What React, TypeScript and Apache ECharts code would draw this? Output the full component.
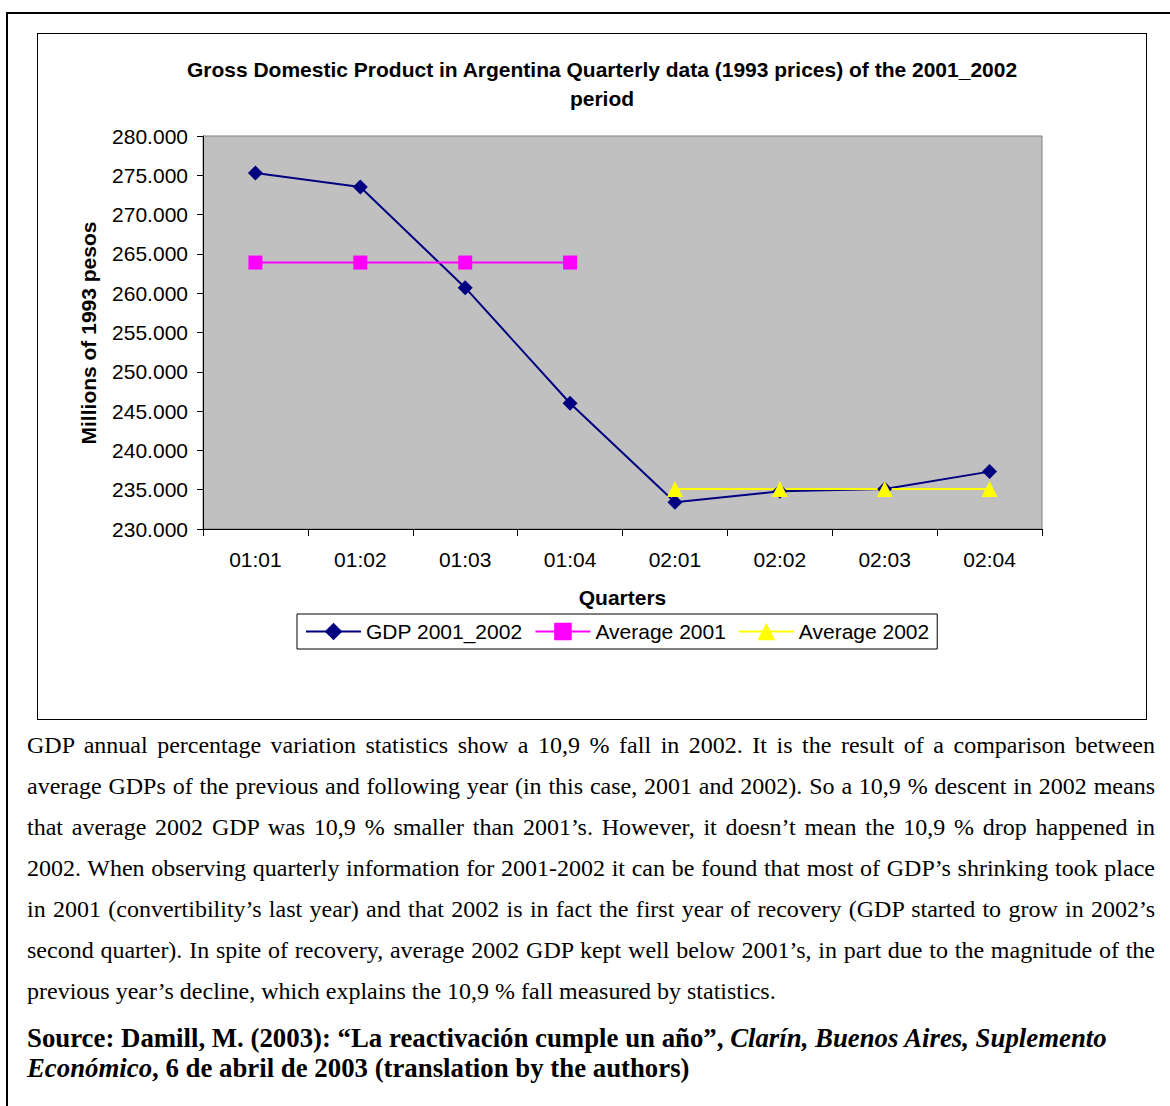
import React, { useEffect, useRef } from "react";
import * as echarts from "echarts";

const quarters = ["01:01", "01:02", "01:03", "01:04", "02:01", "02:02", "02:03", "02:04"];
const gdp = [275300, 273500, 260700, 246000, 233400, 234800, 235100, 237300];
const avg2001 = [263900, 263900, 263900, 263900, null, null, null, null];
const avg2002 = [null, null, null, null, 235100, 235100, 235100, 235100];
const yMin = 230000;
const yMax = 280000;
const yStep = 5000;

const titleText =
  "Gross Domestic Product in Argentina Quarterly data (1993 prices) of the 2001_2002\nperiod";
const yName = "Millions of 1993 pesos";
const xName = "Quarters";

const paragraphLines = [
  "GDP annual percentage variation statistics show a 10,9 % fall in 2002. It is the result of a comparison between",
  "average GDPs of the previous and following year (in this case, 2001 and 2002). So a 10,9 % descent in 2002 means",
  "that average 2002 GDP was 10,9 % smaller than 2001\u2019s. However, it doesn\u2019t mean the 10,9 % drop happened in",
  "2002. When observing quarterly information for 2001-2002 it can be found that most of GDP\u2019s shrinking took place",
  "in 2001 (convertibility\u2019s last year) and that 2002 is in fact the first year of recovery (GDP started to grow in 2002\u2019s",
  "second quarter). In spite of recovery, average 2002 GDP kept well below 2001\u2019s, in part due to the magnitude of the",
  "previous year\u2019s decline, which explains the 10,9 % fall measured by statistics.",
];

const SANS = "'Liberation Sans', Arial, sans-serif";
const SERIF = "'Liberation Serif', 'Times New Roman', serif";

function fmt(v: number) {
  const th = Math.floor(v / 1000);
  const rest = String(v % 1000).padStart(3, "0");
  return th + "." + rest;
}

function Chart() {
  const ref = useRef<HTMLDivElement>(null);
  useEffect(() => {
    if (!ref.current) return;
    const chart = echarts.init(ref.current, undefined, { renderer: "svg" });
    chart.setOption({
      animation: false,
      backgroundColor: "#fff",
      textStyle: { fontFamily: SANS },
      grid: {
        left: 165,
        top: 102,
        width: 839,
        height: 393,
        show: true,
        backgroundColor: "#C0C0C0",
        borderColor: "#808080",
        borderWidth: 1,
      },
      graphic: [
        {
          type: "text",
          x: 564,
          y: 20.5,
          style: {
            text: titleText,
            fontFamily: SANS,
            fontWeight: "bold",
            fontSize: 21,
            lineHeight: 29,
            fill: "#000",
            textAlign: "center",
            textVerticalAlign: "top",
          },
        },
        {
          type: "text",
          x: 50,
          y: 299,
          rotation: Math.PI / 2,
          style: {
            text: yName,
            fontFamily: SANS,
            fontWeight: "bold",
            fontSize: 21,
            fill: "#000",
            textAlign: "center",
            textVerticalAlign: "middle",
          },
        },
        {
          type: "text",
          x: 584.5,
          y: 563,
          style: {
            text: xName,
            fontFamily: SANS,
            fontWeight: "bold",
            fontSize: 21,
            fill: "#000",
            textAlign: "center",
            textVerticalAlign: "middle",
          },
        },
      ],
      legend: {
        left: 259,
        top: 580,
        itemWidth: 55,
        itemHeight: 22,
        itemGap: 12,
        padding: [6, 8, 6, 8],
        borderColor: "#000",
        borderWidth: 1,
        backgroundColor: "#fff",
        textStyle: { fontSize: 21, color: "#000", fontFamily: SANS, lineHeight: 23 },
        data: ["GDP 2001_2002", "Average 2001", "Average 2002"],
      },
      xAxis: {
        type: "category",
        data: quarters,
        boundaryGap: true,
        axisLine: { show: true, lineStyle: { color: "#000", width: 1 } },
        axisTick: { show: true, length: 7, lineStyle: { color: "#000" } },
        axisLabel: { fontSize: 21, color: "#000", margin: 20, fontFamily: SANS },
        splitLine: { show: false },
      },
      yAxis: {
        type: "value",
        min: yMin,
        max: yMax,
        interval: yStep,
        axisLine: { show: true, lineStyle: { color: "#000", width: 1 } },
        axisTick: { show: true, length: 6, lineStyle: { color: "#000" } },
        axisLabel: {
          fontSize: 21,
          color: "#000",
          margin: 15,
          fontFamily: SANS,
          formatter: (v: number) => fmt(v),
        },
        splitLine: { show: false },
      },
      series: [
        {
          type: "line",
          name: "GDP 2001_2002",
          data: gdp,
          symbol: "diamond",
          symbolSize: 15,
          color: "#000080",
          lineStyle: { color: "#000080", width: 2 },
          itemStyle: { color: "#000080" },
        },
        {
          type: "line",
          name: "Average 2001",
          data: avg2001,
          symbol: "rect",
          symbolSize: 14,
          color: "#FF00FF",
          lineStyle: { color: "#FF00FF", width: 2 },
          itemStyle: { color: "#FF00FF" },
        },
        {
          type: "line",
          name: "Average 2002",
          data: avg2002,
          symbol: "triangle",
          symbolSize: 16,
          color: "#FFFF00",
          lineStyle: { color: "#FFFF00", width: 2 },
          itemStyle: { color: "#FFFF00" },
        },
      ],
    });
    return () => chart.dispose();
  }, []);
  return <div ref={ref} style={{ width: 1108, height: 685 }} />;
}

export default function App() {
  return (
    <div
      style={{
        position: "absolute",
        left: 0,
        top: 0,
        width: 1170,
        height: 1106,
        overflow: "hidden",
        background: "#fff",
      }}
    >
      <div
        style={{
          position: "absolute",
          left: 6,
          top: 12,
          width: 1200,
          height: 1200,
          borderLeft: "2px solid #000",
          borderTop: "2px solid #000",
          boxSizing: "border-box",
        }}
      />
      <div
        style={{
          position: "absolute",
          left: 37,
          top: 33,
          width: 1108,
          height: 685,
          border: "1px solid #000",
        }}
      >
        <Chart />
      </div>
      <div
        style={{
          position: "absolute",
          left: 27,
          top: 725,
          width: 1128,
          fontFamily: SERIF,
          fontSize: 24,
          lineHeight: "41px",
          color: "#000",
        }}
      >
        {paragraphLines.map((l, i) => (
          <div
            key={i}
            style={{
              textAlign: i < paragraphLines.length - 1 ? "justify" : "left",
              textAlignLast: i < paragraphLines.length - 1 ? "justify" : "left",
              whiteSpace: "nowrap",
            } as React.CSSProperties}
          >
            {l}
          </div>
        ))}
      </div>
      <div
        style={{
          position: "absolute",
          left: 27,
          top: 1023,
          fontFamily: SERIF,
          fontSize: 26.8,
          fontWeight: "bold",
          lineHeight: "30px",
          color: "#000",
          whiteSpace: "nowrap",
        }}
      >
        <div>
          Source: Damill, M. (2003): {"\u201c"}La reactivación cumple un año{"\u201d"},{" "}
          <i>Clarín, Buenos Aires, Suplemento</i>
        </div>
        <div>
          <i>Económico</i>, 6 de abril de 2003 (translation by the authors)
        </div>
      </div>
    </div>
  );
}
